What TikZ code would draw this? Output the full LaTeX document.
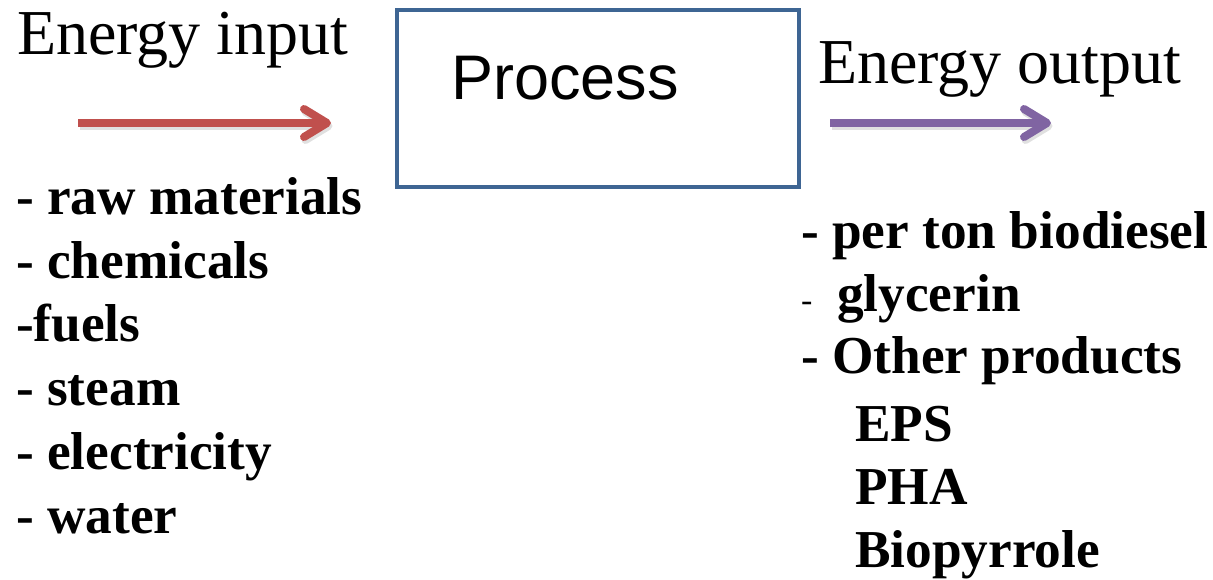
\documentclass[tikz,border=0pt]{standalone}
\usepackage{fontspec}
\setmainfont{Liberation Serif}
\newfontfamily\arialfont{Liberation Sans}
\usetikzlibrary{arrows.meta}

\definecolor{boxblue}{RGB}{62,101,147}
\definecolor{inred}{RGB}{192,80,77}
\definecolor{outpurple}{RGB}{128,100,162}

\begin{document}
\begin{tikzpicture}[x=1pt, y=-1pt,
    head/.style={anchor=base west, inner sep=0pt, font=\fontsize{64}{70}\selectfont},
    item/.style={anchor=base west, inner sep=0pt, font=\fontsize{53.3}{60}\selectfont\bfseries},
    flow/.style={line width=8pt, -{Straight Barb[length=23pt,width=28pt,round]}},
    shade/.style={flow, draw=black!12, transform canvas={xshift=1.5pt, yshift=-3pt}}]
    \useasboundingbox (0,0) rectangle (1213,579);

    % process box
    \draw [line width=4pt, color=boxblue] (397,10) rectangle (799,187);
    \node [anchor=base west, inner sep=0pt, font=\arialfont\fontsize{63}{70}\selectfont] (proc) at (451,99) {Process};

    % headings
    \node [head] (ein) at (17,54) {Energy input};
    \node [head] (eout) at (818,83) {Energy output};

    % arrows
    \coordinate (inA) at (78,123);
    \coordinate (inB) at (331,123);
    \coordinate (outA) at (830,123);
    \coordinate (outB) at (1051,123);
    \draw [shade] (inA) -- (inB);
    \draw [shade] (outA) -- (outB);
    \draw [flow, draw=inred] (inA) -- (inB);
    \draw [flow, draw=outpurple] (outA) -- (outB);

    % inputs
    \node [item] (raw) at (16,214) {- raw materials};
    \node [item] (chem) at (16,278) {- chemicals};
    \node [item] (fuel) at (16,341) {-fuels};
    \node [item] (steam) at (16,405) {- steam};
    \node [item] (elec) at (16,469) {- electricity};
    \node [item] (water) at (16,533) {- water};

    % outputs
    \node [item] (ton) at (801,248) {- per ton biodiesel};
    \node [anchor=base west, inner sep=0pt, font=\fontsize{34}{40}\selectfont] (gdash) at (801,311) {-};
    \node [item] (glyc) at (837,311) {glycerin};
    \node [item] (other) at (801,373) {- Other products};
    \node [item] (eps) at (855,441) {EPS};
    \node [item] (pha) at (855,504) {PHA};
    \node [item] (bpy) at (855,567) {Biopyrrole};

\end{tikzpicture}
\end{document}
